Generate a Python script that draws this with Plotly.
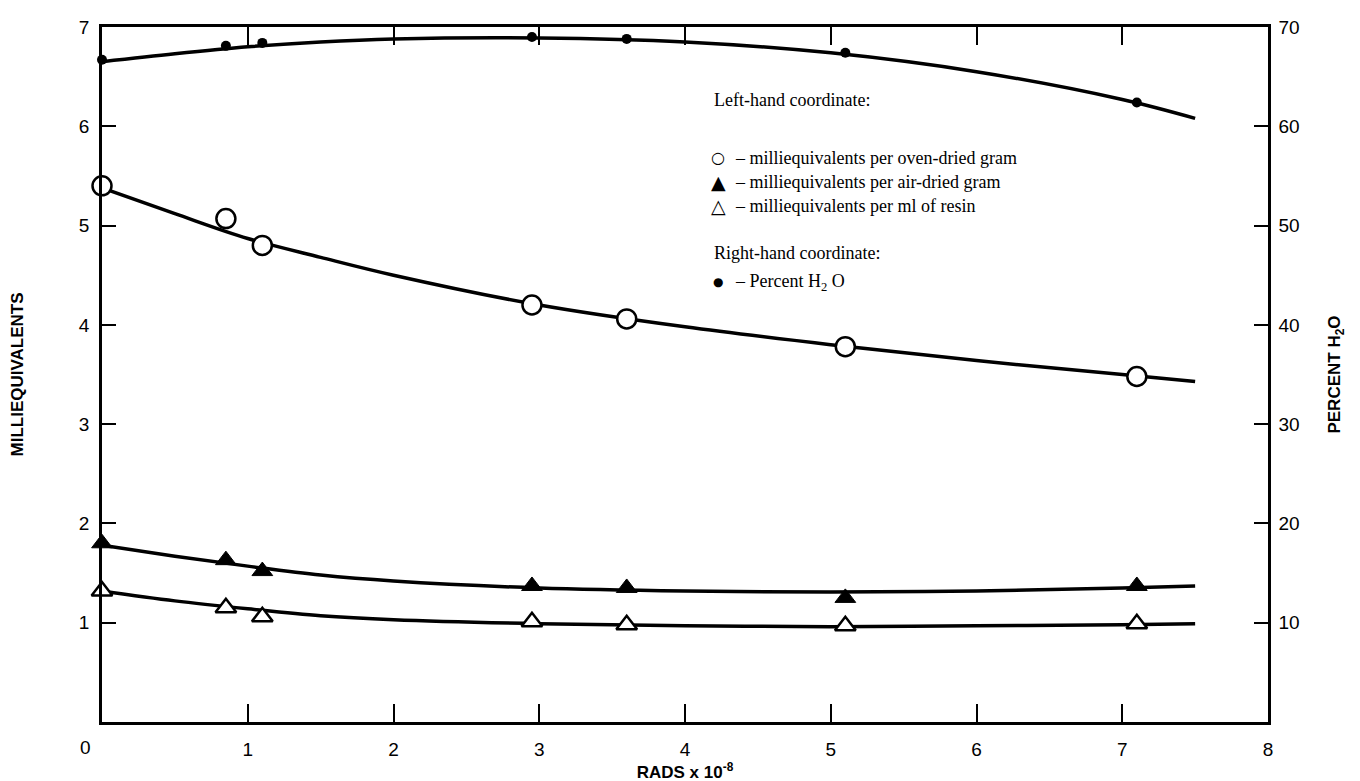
import plotly.graph_objects as go

# measured points
x_pts = [0.0, 0.85, 1.1, 2.95, 3.6, 5.1, 7.1]
oven_dried = [5.4, 5.07, 4.8, 4.2, 4.06, 3.78, 3.48]
air_dried = [1.8, 1.63, 1.52, 1.37, 1.35, 1.25, 1.37]
per_ml = [1.32, 1.15, 1.06, 1.01, 0.98, 0.97, 0.99]
pct_h2o = [66.7, 68.1, 68.4, 69.0, 68.8, 67.4, 62.4]

# hand-drawn fitted curves
x_curve = [0.0, 0.5, 1.0, 1.5, 2.0, 3.0, 4.0, 5.0, 6.0, 7.0, 7.5]
oven_curve = [5.38, 5.12, 4.87, 4.68, 4.5, 4.2, 3.98, 3.8, 3.64, 3.5, 3.43]
air_curve = [1.78, 1.67, 1.57, 1.48, 1.42, 1.35, 1.32, 1.31, 1.32, 1.35, 1.37]
ml_curve = [1.32, 1.22, 1.14, 1.07, 1.03, 0.99, 0.97, 0.96, 0.97, 0.98, 0.99]
h2o_curve = [66.5, 67.3, 68.0, 68.5, 68.8, 68.9, 68.5, 67.4, 65.5, 62.7, 60.8]

x_ticks = [0, 1, 2, 3, 4, 5, 6, 7, 8]
x_tick_text = ["", "1", "2", "3", "4", "5", "6", "7", "8"]
y_ticks = [1, 2, 3, 4, 5, 6, 7]
y2_ticks = [10, 20, 30, 40, 50, 60, 70]

# page has an 8px body margin; plot area in the window: x 101..1268, y 27..722
OFF = 8
W, H = 1360, 781
L, T = 101 - OFF + 1, 27 - OFF
R = W - (1268 - OFF)
B = H - (722 - OFF)
PW, PH = W - L - R, H - T - B

fig = go.Figure()
line_style = dict(color="black", width=3.5, shape="spline", smoothing=1.0)
for yc in (oven_curve, air_curve, ml_curve):
    fig.add_trace(go.Scatter(x=x_curve, y=yc, mode="lines", line=line_style,
                             showlegend=False, hoverinfo="skip", cliponaxis=False))
fig.add_trace(go.Scatter(x=x_curve, y=h2o_curve, mode="lines", line=line_style,
                         yaxis="y2", showlegend=False, hoverinfo="skip", cliponaxis=False))

fig.add_trace(go.Scatter(x=x_pts, y=oven_dried, mode="markers", cliponaxis=False,
                         marker=dict(symbol="circle", size=19, color="white",
                                     line=dict(color="black", width=2.5)), showlegend=False))
fig.add_trace(go.Scatter(x=x_pts, y=air_dried, mode="markers", cliponaxis=False,
                         marker=dict(symbol="triangle-up", size=18, color="black",
                                     line=dict(color="black", width=1)), showlegend=False))
fig.add_trace(go.Scatter(x=x_pts, y=per_ml, mode="markers", cliponaxis=False,
                         marker=dict(symbol="triangle-up", size=18, color="white",
                                     line=dict(color="black", width=2.5)), showlegend=False))
fig.add_trace(go.Scatter(x=x_pts, y=pct_h2o, mode="markers", yaxis="y2", cliponaxis=False,
                         marker=dict(symbol="circle", size=10, color="black"), showlegend=False))

tick_font = dict(family="Liberation Sans", size=19, color="black")
title_font = dict(family="Liberation Sans", size=17, color="black")

fig.update_layout(
    width=W, height=H,
    margin=dict(l=L, r=R, t=T, b=B),
    paper_bgcolor="white", plot_bgcolor="white",
    font=dict(family="Liberation Sans", color="black"),
    xaxis=dict(range=[0, 8], tickvals=x_ticks, ticktext=x_tick_text, automargin=False,
               ticks="inside", ticklen=18, tickwidth=2, tickcolor="black",
               ticklabelstandoff=8,
               showline=True, linecolor="black", linewidth=2.5, mirror="ticks",
               showgrid=False, zeroline=False, tickfont=tick_font,
               title=dict(text="<b>RADS x 10<sup>-8</sup></b>", font=title_font, standoff=2)),
    yaxis=dict(range=[0, 7], tickvals=y_ticks, ticks="inside", ticklen=14, tickwidth=2,
               tickcolor="black", showline=True, linecolor="black", linewidth=2.5,
               ticklabelstandoff=6, automargin=False,
               showgrid=False, zeroline=False, tickfont=tick_font,
               title=dict(text="<b>MILLIEQUIVALENTS</b>", font=title_font, standoff=54)),
    yaxis2=dict(range=[0, 70], tickvals=y2_ticks, overlaying="y", side="right",
                ticks="inside", ticklen=14, tickwidth=2, tickcolor="black",
                ticklabelstandoff=4, automargin=False,
                showline=True, linecolor="black", linewidth=2.5,
                showgrid=False, zeroline=False, tickfont=tick_font,
                title=dict(text="<b>PERCENT H<sub>2</sub>O</b>", font=title_font, standoff=30)),
)


def py(p):
    return (H - B - (p - OFF)) / PH


def px(p):
    return (p - OFF - L) / PW


# "0" label sits left of the origin
fig.add_annotation(text="0", xref="paper", yref="paper", x=px(85), y=0,
                   xanchor="center", yanchor="top", yshift=-13, showarrow=False, font=tick_font)

serif = dict(family="Liberation Serif", size=18, color="black")

headers = [("Left-hand coordinate:", 100), ("Right-hand coordinate:", 253)]
for txt, yy in headers:
    fig.add_annotation(text=txt, xref="paper", yref="paper", x=px(712), y=py(yy),
                       xanchor="left", yanchor="middle", showarrow=False, font=serif)

rows = [
    ("○", 16, "– milliequivalents per oven-dried gram", 158),
    ("▲", 19, "– milliequivalents per air-dried gram", 182),
    ("△", 19, "– milliequivalents per ml of resin", 206),
    ("●", 12, "– Percent H<sub>2</sub> O", 282),
]
for sym, ssize, txt, yy in rows:
    fig.add_annotation(text=sym, xref="paper", yref="paper", x=px(718), y=py(yy),
                       xanchor="center", yanchor="middle", showarrow=False,
                       font=dict(family="DejaVu Sans", size=ssize, color="black"))
    fig.add_annotation(text=txt, xref="paper", yref="paper", x=px(733), y=py(yy),
                       xanchor="left", yanchor="middle", showarrow=False, font=serif)

fig.write_html("out.html")
